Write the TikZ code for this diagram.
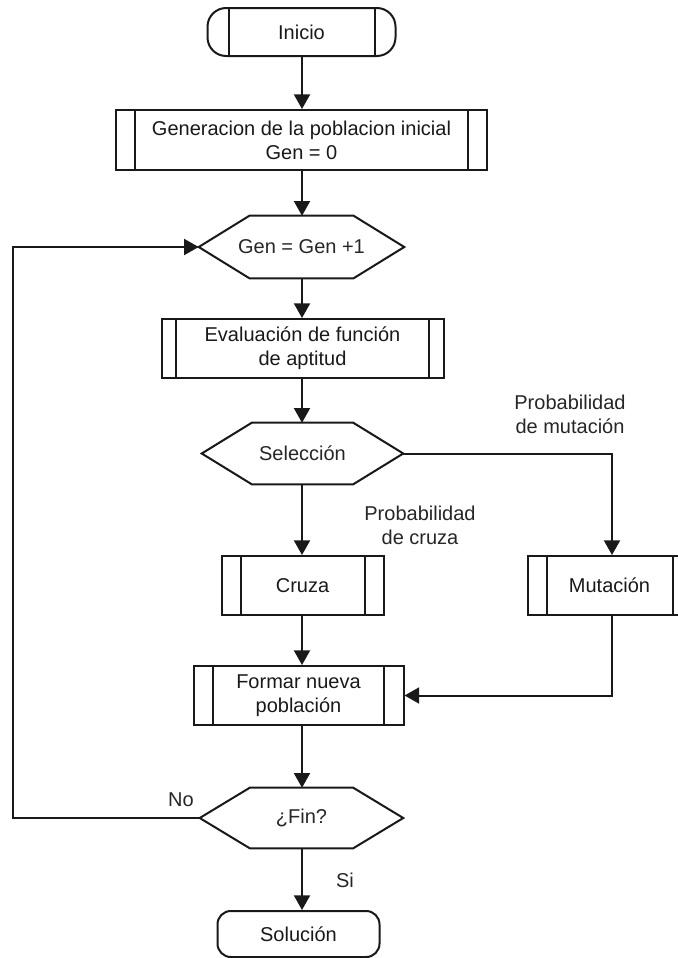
\documentclass[tikz,border=0pt]{standalone}
\usepackage{fontspec}
\setmainfont{Liberation Sans}
\usetikzlibrary{arrows.meta}

% side bars of a predefined-process box, #2 = inset from the outer edge
\newcommand\sidebars[2]{%
  \draw[frame] ([xshift=#2]#1.north west) -- ([xshift=#2]#1.south west);
  \draw[frame] ([xshift=-#2]#1.north east) -- ([xshift=-#2]#1.south east);}
% hexagonal outline, #2 = horizontal length of the slanted edges
\newcommand\hexframe[2]{%
  \draw[frame] (#1.west) -- ([xshift=#2]#1.north west) -- ([xshift=-#2]#1.north east)
    -- (#1.east) -- ([xshift=-#2]#1.south east) -- ([xshift=#2]#1.south west) -- cycle;}

\begin{document}
\begin{tikzpicture}[x=0.75pt,y=-0.75pt,
  every node/.style={font=\fontsize{15pt}{18pt}\selectfont, text=black!85, align=center, inner sep=0pt},
  frame/.style={line width=1.5pt, black!90},
  procbox/.style={frame, draw, rectangle},
  hexbox/.style={rectangle, draw=none},
  termbox/.style={frame, draw, rectangle, rounded corners=#1},
  flow/.style={line width=1.5pt, black!90, -{Triangle[length=11pt,width=12pt]}},
  plain/.style={line width=1.5pt, black!90}]
\useasboundingbox (0,0) rectangle (678,958);
\clip (0,0) rectangle (678,958);

% nodes
\node[termbox=14pt, minimum width=141pt, minimum height=36pt] (inicio) at (301.5,32) {Inicio};
\node[procbox, minimum width=278.25pt, minimum height=45pt] (gen0) at (301.5,140)
  {Generacion de la poblacion inicial\\Gen = 0};
\node[hexbox, minimum width=153.75pt, minimum height=46.5pt] (gen1) at (301.5,247) {Gen = Gen +1};
\node[procbox, minimum width=211.5pt, minimum height=44.25pt] (eval) at (302.5,348.5)
  {Evaluación de función\\de aptitud};
\node[hexbox, minimum width=150.75pt, minimum height=45.75pt] (sel) at (302.5,453.5) {Selección};
\node[procbox, minimum width=121.5pt, minimum height=44.25pt] (cruza) at (302.5,585.5) {Cruza};
\node[procbox, minimum width=123pt, minimum height=44.25pt] (mut) at (609.5,585.5) {Mutación};
\node[procbox, minimum width=157.5pt, minimum height=44.25pt] (formar) at (298.5,695.5)
  {Formar nueva\\población};
\node[hexbox, minimum width=152.25pt, minimum height=45pt] (fin) at (301.5,818) {¿Fin?};
\node[termbox=10pt, minimum width=121.5pt, minimum height=34.5pt] (sol) at (298.5,934) {Solución};

% shape details
\sidebars{inicio}{16.5pt}
\sidebars{gen0}{15pt}
\sidebars{eval}{11.5pt}
\sidebars{cruza}{15pt}
\sidebars{mut}{15pt}
\sidebars{formar}{15.5pt}
\hexframe{gen1}{38pt}
\hexframe{sel}{37.5pt}
\hexframe{fin}{37.5pt}

% labels
\node (pmut) at (570,414) {Probabilidad\\de mutación};
\node (pcruza) at (420,525) {Probabilidad\\de cruza};
\node (no) at (181,800) {No};
\node (si) at (345,880) {Si};

% connectors
\draw[flow] (inicio.south -| 302,0) -- (gen0.north -| 302,0);
\draw[flow] (gen0.south -| 302,0) -- (gen1.north -| 302,0);
\draw[flow] (gen1.south -| 302,0) -- (eval.north -| 302,0);
\draw[flow] (eval.south -| 302,0) -- (sel.north -| 302,0);
\draw[flow] (sel.south -| 302,0) -- (cruza.north -| 302,0);
\draw[flow] (cruza.south -| 302,0) -- (formar.north -| 302,0);
\draw[flow] (formar.south -| 302,0) -- (fin.north -| 302,0);
\draw[flow] (fin.south -| 302,0) -- (sol.north -| 302,0);
\coordinate (mutx) at (612,0);
\draw[flow] (sel.east) -| (mut.north -| mutx);
\draw[flow] (mut.south -| mutx) |- (formar.east);
\coordinate (loop) at (13,818);
\draw[flow] (fin.west) -- (loop) |- (gen1.west);
\end{tikzpicture}
\end{document}
